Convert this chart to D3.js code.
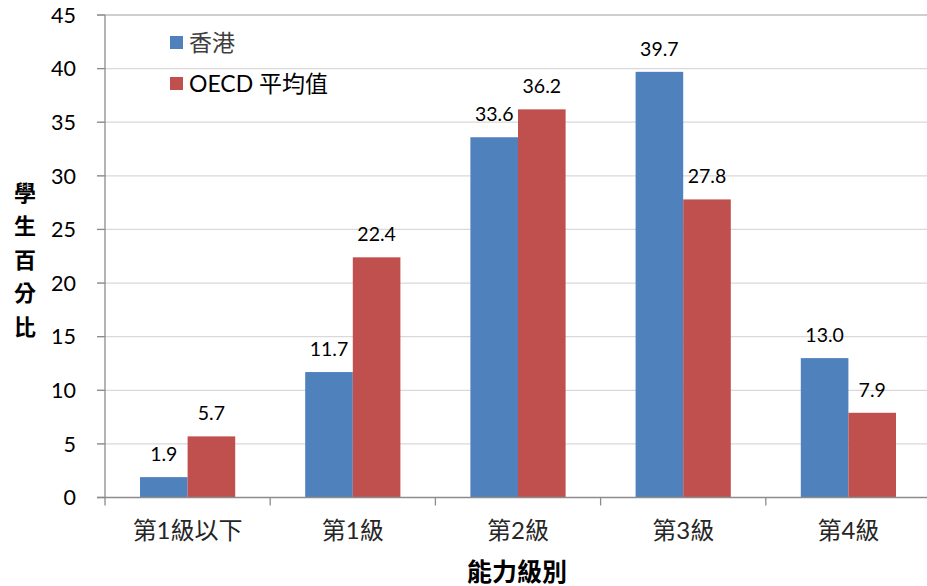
<!DOCTYPE html>
<html>
<head>
<meta charset="utf-8">
<script src="https://cdn.jsdelivr.net/npm/d3@7"></script>
<style>
  body { margin: 0; background: #fff; }
  text { font-family: Lato, "Noto Sans CJK TC", sans-serif; }
</style>
</head>
<body>
<svg id="chart" width="927" height="586"></svg>
<script>
'use strict';

var levels = ['第1級以下', '第1級', '第2級', '第3級', '第4級'];
var seriesNames = ['香港', 'OECD 平均值'];
var hongKong = [1.9, 11.7, 33.6, 39.7, 13.0];
var oecdAvg = [5.7, 22.4, 36.2, 27.8, 7.9];
var yTicks = [0, 5, 10, 15, 20, 25, 30, 35, 40, 45];
var colors = ['#4F81BD', '#C0504D'];
var yTitle = ['學', '生', '百', '分', '比'];

var svg = d3.select('#chart');

var x = d3.scaleBand().domain(levels).range([105, 931]).padding(0);
var xInner = d3.scaleBand().domain([0, 1]).range([0, x.bandwidth()]).paddingOuter(0.735).paddingInner(0);
var y = d3.scaleLinear().domain([0, 45]).range([497.5, 15]);

// gridlines
svg.append('g').selectAll('line').data(yTicks.slice(1))
    .enter().append('line')
    .attr('x1', 97).attr('x2', 931)
    .attr('y1', function(d) { return y(d); })
    .attr('y2', function(d) { return y(d); })
    .attr('stroke', function(d) { return d === 45 ? '#bfbfbf' : '#d9d9d9'; })
    .attr('stroke-width', 1.3);
// tick stubs on y axis
svg.append('g').selectAll('line').data(yTicks)
    .enter().append('line')
    .attr('x1', 97).attr('x2', 105)
    .attr('y1', function(d) { return y(d); })
    .attr('y2', function(d) { return y(d); })
    .attr('stroke', '#8c8c8c').attr('stroke-width', 1.3);

svg.append('g').selectAll('text').data(yTicks)
    .enter().append('text')
    .attr('x', 76)
    .attr('y', function(d) { return y(d); })
    .attr('dy', '0.36em')
    .attr('text-anchor', 'end')
    .attr('font-size', 21.5)
    .attr('fill', '#000')
    .text(function(d) { return d; });

// bars
var rows = levels.map(function(l, i) { return {level: l, values: [hongKong[i], oecdAvg[i]]}; });
var groups = svg.append('g').selectAll('g').data(rows)
    .enter().append('g')
    .attr('transform', function(d) { return 'translate(' + x(d.level) + ',0)'; });

groups.selectAll('rect').data(function(d) { return d.values; })
    .enter().append('rect')
    .attr('x', function(d, i) { return xInner(i); })
    .attr('width', xInner.bandwidth())
    .attr('y', function(d) { return y(d); })
    .attr('height', function(d) { return y(0) - y(d); })
    .attr('fill', function(d, i) { return colors[i]; });

groups.selectAll('text').data(function(d) { return d.values; })
    .enter().append('text')
    .attr('x', function(d, i) { return xInner(i) + xInner.bandwidth() / 2; })
    .attr('y', function(d) { return y(d) - 16; })
    .attr('text-anchor', 'middle')
    .attr('font-size', 19.5)
    .attr('fill', '#000')
    .text(function(d) { return d.toFixed(1); });

// axes lines
svg.append('line').attr('x1', 105).attr('x2', 105).attr('y1', 15).attr('y2', y(0))
    .attr('stroke', '#8c8c8c').attr('stroke-width', 1.3);
svg.append('line').attr('x1', 97).attr('x2', 931).attr('y1', y(0)).attr('y2', y(0))
    .attr('stroke', '#8c8c8c').attr('stroke-width', 1.3);
var xBounds = levels.map(function(l) { return x(l); }).concat([x.range()[1]]);
svg.append('g').selectAll('line').data(xBounds)
    .enter().append('line')
    .attr('x1', function(d) { return d; }).attr('x2', function(d) { return d; })
    .attr('y1', y(0)).attr('y2', y(0) + 8)
    .attr('stroke', '#8c8c8c').attr('stroke-width', 1.3);

svg.append('g').selectAll('text').data(levels)
    .enter().append('text')
    .attr('x', function(d) { return x(d) + x.bandwidth() / 2; })
    .attr('y', 530)
    .attr('dy', '0.36em')
    .attr('text-anchor', 'middle')
    .attr('font-size', 24)
    .attr('fill', '#262626')
    .text(function(d) { return d; });

// axis titles
svg.append('text')
    .attr('x', 517).attr('y', 572).attr('dy', '0.36em')
    .attr('text-anchor', 'middle')
    .attr('font-size', 25).attr('font-weight', 'bold')
    .text('能力級別');

svg.append('g').selectAll('text').data(yTitle)
    .enter().append('text')
    .attr('x', 25)
    .attr('y', function(d, i) { return 193 + i * 33.5; })
    .attr('dy', '0.36em')
    .attr('text-anchor', 'middle')
    .attr('font-size', 22).attr('font-weight', 'bold')
    .text(function(d) { return d; });

// legend
var legend = svg.append('g').selectAll('g').data(seriesNames)
    .enter().append('g')
    .attr('transform', function(d, i) { return 'translate(170,' + (36 + i * 41) + ')'; });
legend.append('rect')
    .attr('width', 13).attr('height', 13)
    .attr('fill', function(d, i) { return colors[i]; });
legend.append('text')
    .attr('x', 19).attr('y', 6.5).attr('dy', '0.36em')
    .attr('font-size', 23)
    .attr('fill', function(d, i) { return i === 0 ? '#404040' : '#000'; })
    .text(function(d) { return d; });
</script>
</body>
</html>
